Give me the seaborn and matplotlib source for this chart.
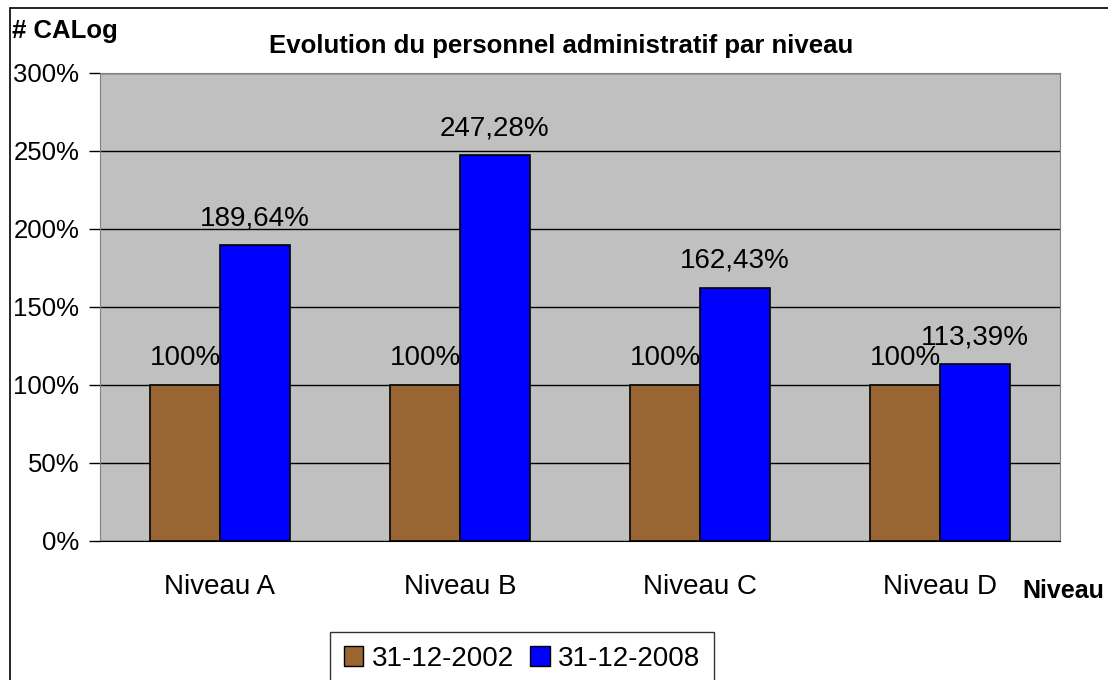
import seaborn as sns
import matplotlib.pyplot as plt
import pandas as pd
from matplotlib.patches import Rectangle

# Data
niveaux = ['Niveau A', 'Niveau B', 'Niveau C', 'Niveau D']
dates = ['31-12-2002', '31-12-2008']
val_2002 = [100, 100, 100, 100]
val_2008 = [189.64, 247.28, 162.43, 113.39]
lbl_2002 = ['100%', '100%', '100%', '100%']
lbl_2008 = ['189,64%', '247,28%', '162,43%', '113,39%']

df = pd.DataFrame({
    'Niveau': niveaux * 2,
    'Date': [dates[0]] * 4 + [dates[1]] * 4,
    'Valeur': val_2002 + val_2008,
})

sns.set_style('white')
plt.rcParams['font.family'] = ['Liberation Sans', 'DejaVu Sans']
plt.rcParams['text.color'] = 'black'
plt.rcParams['xtick.color'] = 'black'
plt.rcParams['ytick.color'] = 'black'

fig = plt.figure(figsize=(11.08, 6.8), dpi=100)
ax = fig.add_axes([100/1108, 1 - 541/680, 960/1108, 468/680])

sns.barplot(data=df, x='Niveau', y='Valeur', hue='Date',
            palette=['#996633', '#0000FF'], width=0.58,
            edgecolor='black', linewidth=1.2, saturation=1, ax=ax, zorder=3)

ax.set_facecolor('#C0C0C0')
ax.set_ylim(0, 300)
ax.set_xlim(-0.5, 3.5)
ax.set_yticks(range(0, 301, 50))
ax.set_yticklabels([f'{v}%' for v in range(0, 301, 50)], fontsize=18.5)
ax.yaxis.grid(True, color='black', linewidth=1, zorder=0)
ax.set_axisbelow(True)

ax.set_xticks(range(4))
ax.set_xticklabels(niveaux, fontsize=20)
ax.set_xticks([-0.5, 0.5, 1.5, 2.5, 3.5], minor=True)
ax.tick_params(axis='x', which='major', length=0, pad=24)
ax.tick_params(axis='x', which='minor', length=8, width=1, color='black', direction='out')
ax.tick_params(axis='y', length=8, width=1, color='black', direction='out', pad=7, left=True)
ax.set_xlabel('')
ax.set_ylabel('')

for s in ['top', 'right', 'left']:
    ax.spines[s].set_color('#808080')
ax.spines['bottom'].set_color('black')

for cont, labs in zip(ax.containers, [lbl_2002, lbl_2008]):
    ax.bar_label(cont, labels=labs, fontsize=20, padding=10)

ax.legend_.remove()
handles = [Rectangle((0, 0), 1, 1, facecolor=c, edgecolor='black') for c in ['#996633', '#0000FF']]
leg = fig.legend(handles, dates, loc='upper center', bbox_to_anchor=(522/1108, 1 - 632/680),
                 ncol=2, fontsize=20, frameon=True, fancybox=False, edgecolor='black',
                 handlelength=0.7, handleheight=0.7, handletextpad=0.3, columnspacing=0.6,
                 borderpad=0.5, borderaxespad=0)
leg.get_frame().set_linewidth(1)

fig.text(561/1108, 1 - 46/680, 'Evolution du personnel administratif par niveau',
         ha='center', va='center', fontsize=18.5, fontweight='bold')
fig.text(12/1108, 1 - 31/680, '# CALog', ha='left', va='center', fontsize=18.5, fontweight='bold')
fig.text(1022/1108, 1 - 591/680, 'Niveau', ha='left', va='center', fontsize=18, fontweight='bold')

fig.patches.append(Rectangle((10/1108, -0.1), 1.2, 1 - 8/680 + 0.1, transform=fig.transFigure,
                             fill=False, edgecolor='black', linewidth=1.2))

fig.savefig('out.png', dpi=100)
